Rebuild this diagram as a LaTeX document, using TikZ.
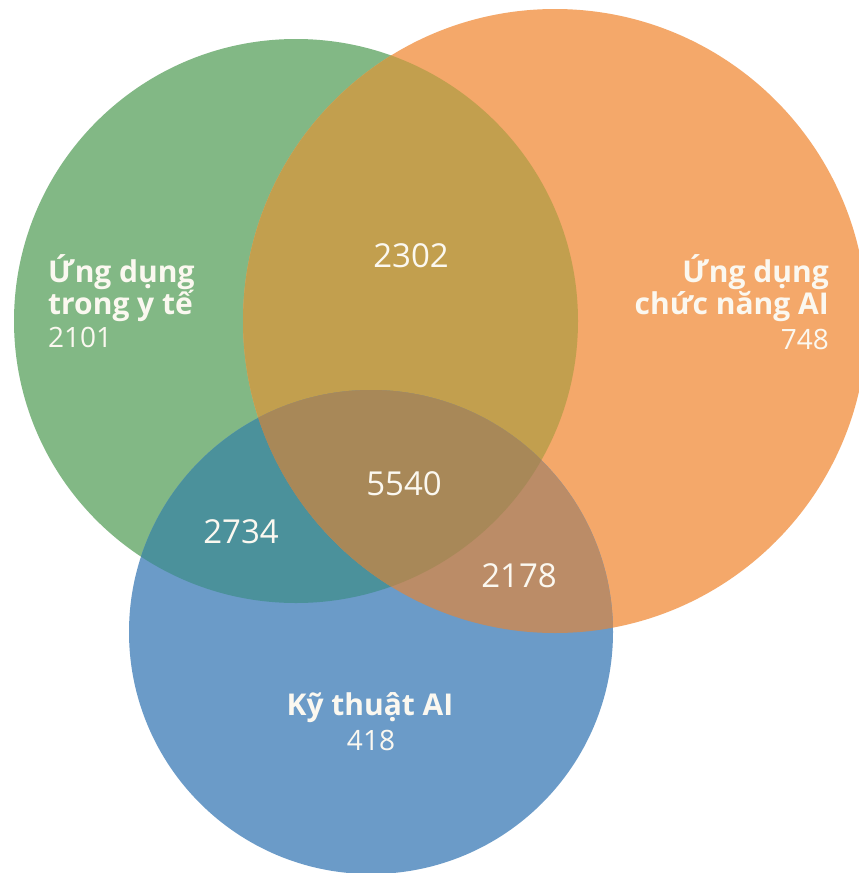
\documentclass[tikz,border=0pt]{standalone}
\usepackage{fontspec}
\setmainfont{Open Sans}
\definecolor{cG}{HTML}{82B885}
\definecolor{cO}{HTML}{F4A86A}
\definecolor{cB}{HTML}{6B9BC8}
\definecolor{cGO}{HTML}{C29F4E}
\definecolor{cGB}{HTML}{4B919B}
\definecolor{cOB}{HTML}{BB8C67}
\definecolor{cGOB}{HTML}{A88858}
\definecolor{txt}{HTML}{FBF8F0}
\begin{document}
\begin{tikzpicture}[x=1pt,y=-1pt,
  title/.style={text=txt,inner sep=0pt,font=\fontsize{30}{32}\selectfont\bfseries},
  count/.style={text=txt,inner sep=0pt,font=\fontsize{28}{30}\selectfont},
  region/.style={text=txt,inner sep=0pt,font=\fontsize{33}{36}\selectfont}]
\useasboundingbox (0,0) rectangle (859,873);
\fill[white] (0,0) rectangle (859,873);
\coordinate (cg) at (296,321);
\coordinate (co) at (555,321);
\coordinate (cb) at (371,632);
\def\rG{282pt}\def\rO{312pt}\def\rB{242pt}
% base circles
\fill[cG] (cg) circle[radius=\rG];
\fill[cO] (co) circle[radius=\rO];
\fill[cB] (cb) circle[radius=\rB];
% pairwise overlaps
\begin{scope}
  \clip (cg) circle[radius=\rG];
  \fill[cGO] (co) circle[radius=\rO];
  \fill[cGB] (cb) circle[radius=\rB];
\end{scope}
\begin{scope}
  \clip (co) circle[radius=\rO];
  \fill[cOB] (cb) circle[radius=\rB];
\end{scope}
% triple overlap
\begin{scope}
  \clip (cg) circle[radius=\rG];
  \clip (co) circle[radius=\rO];
  \fill[cGOB] (cb) circle[radius=\rB];
\end{scope}
% labels
\node[title,anchor=base west] (g1) at (48,282) {Ứng dụng};
\node[title,anchor=base west] (g2) at (48,314) {trong y tế};
\node[count,anchor=base west] (g3) at (48,347) {2101};
\node[title,anchor=base east] (o1) at (829,282) {Ứng dụng};
\node[title,anchor=base east] (o2) at (829,314) {chức năng AI};
\node[count,anchor=base east] (o3) at (829,349) {748};
\node[title,anchor=base] (b1) at (370,715) {Kỹ thuật AI};
\node[count,anchor=base] (b2) at (371,750) {418};
% region numbers
\node[region,anchor=base] (ngo) at (411,267) {2302};
\node[region,anchor=base] (ngob) at (404,495) {5540};
\node[region,anchor=base] (ngb) at (241,543) {2734};
\node[region,anchor=base] (nob) at (519,587) {2178};
\end{tikzpicture}
\end{document}
